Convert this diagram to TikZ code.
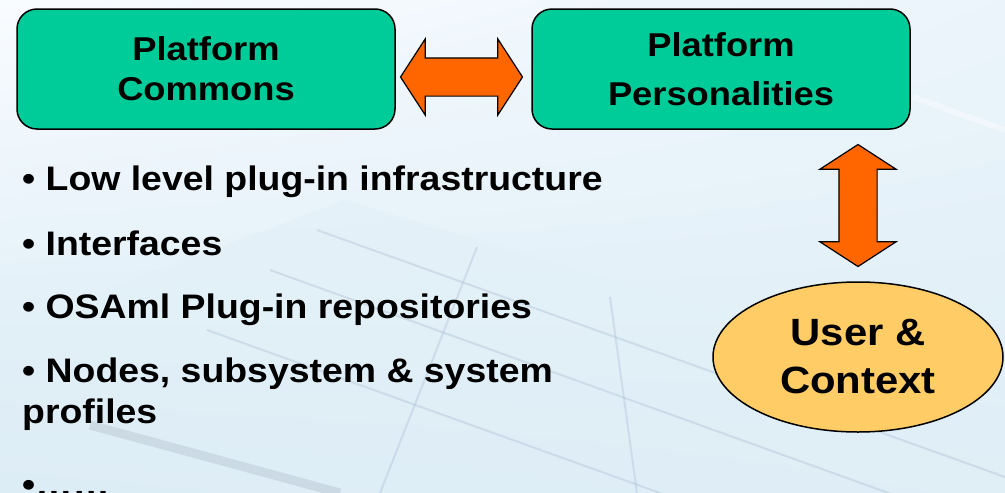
\documentclass[tikz,border=0pt]{standalone}
\usepackage{fontspec}
\setmainfont{Liberation Sans}[FakeStretch=1.1]
\usetikzlibrary{shapes.geometric,shapes.arrows,shadings,calc}

\definecolor{boxgreen}{RGB}{0,204,153}
\definecolor{arroworange}{RGB}{255,102,0}
\definecolor{usergold}{RGB}{255,204,102}
\definecolor{bgtop}{RGB}{249,252,255}
\definecolor{bgblue}{RGB}{214,233,244}
\definecolor{facade}{RGB}{176,192,214}

\tikzset{
	platform/.style={draw=black, line width=1.5pt, fill=boxgreen, rounded corners=20pt,
		minimum width=378pt, minimum height=120pt, inner sep=0pt, align=center},
	bothways/.style={draw=black, line width=1.2pt, fill=arroworange, double arrow,
		double arrow head extend=19pt, double arrow tip angle=114, inner sep=18.5pt,
		minimum width=76pt, minimum height=122pt},
	bullet/.style={anchor=base west, align=left, inner sep=0pt,
		font=\bfseries\fontsize{34}{41}\selectfont},
}

\begin{document}
\begin{tikzpicture}[x=1pt,y=-1pt]
	\useasboundingbox (0,0) rectangle (1005,493);
	\clip (0,0) rectangle (1005,493);
	
	%background with the faint building
	\shade[upper left=bgtop, upper right=bgtop!60!bgblue, lower left=bgblue, lower right=bgblue!80!bgtop] (0,0) rectangle (1005,493);
	\fill[bgblue!70!white, opacity=0.6] (345,200) -- (1005,400) -- (1005,493) -- (0,493) -- (0,330) -- cycle;
	\foreach \xa/\ya/\xb/\yb in {317/230/1005/477, 270/270/1005/535, 207/330/1005/617, 477/247/380/493, 610/297/637/493}{
		\draw[facade, line width=2pt, opacity=0.4] (\xa,\ya) -- (\xb,\yb);}
	\draw[facade!70!gray, line width=9pt, opacity=0.3] (90,425) -- (340,493);	%edge of the roof
	\draw[white, line width=6pt, opacity=0.4] (913,97) -- (1005,130);
	
	%boxes
	\node[platform, font=\bfseries\fontsize{33}{40}\selectfont] (commons) at (206,69) {Platform\\Commons};
	\node[platform, font=\bfseries\fontsize{33}{49}\selectfont] (personal) at (721,69) {Platform\\Personalities};
	\node[ellipse, draw=black, line width=1.5pt, fill=usergold, minimum width=290pt, minimum height=150pt,
		inner sep=0pt, align=center, font=\bfseries\fontsize{38}{48}\selectfont] (user) at (858,357) {User \&\\Context};
	
	%block arrows
	\node[bothways] (link) at ($(commons.east)!0.5!(personal.west)+(-2,8)$) {};
	\node[bothways, shape border rotate=90] (uplink) at ($(user.north)!0.5!(user.north |- personal.south)$) {};
	
	%bullet list
	\node[bullet] (low) at (22,190) {• Low level plug-in infrastructure};
	\node[bullet] (iface) at (22,255) {• Interfaces};
	\node[bullet] (repo) at (22,318) {• OSAml Plug-in repositories};
	\node[bullet] (prof) at (22,423) {• Nodes, subsystem \& system\\profiles};	%base is the last line
	\node[bullet] (more) at (22,496) {•……};
\end{tikzpicture}
\end{document}
